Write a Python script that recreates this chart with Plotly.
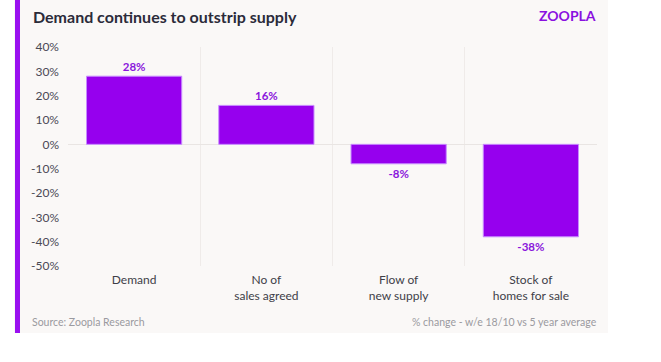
import plotly.graph_objects as go

categories = ["Demand", "No of<br>sales agreed", "Flow of<br>new supply", "Stock of<br>homes for sale"]
values = [28, 16, -8, -38]
y_tickvals = [40, 30, 20, 10, 0, -10, -20, -30, -40, -50]
y_ticktext = ["40%", "30%", "20%", "10%", "0%", "-10%", "-20%", "-30%", "-40%", "-50%"]

W, H = 661, 362
# plot area in page pixels: x 68..597, y 47..266
L, R, T = 68, W - 597, 47
B = H - 266
PW, PH = W - L - R, H - T - B

def px(x):
    return (x - L) / PW

def py(y):
    return (H - B - y) / PH

PURPLE = "#9600ee"
CARD = "#faf8f7"
FONT = "Lato"

fig = go.Figure()
fig.add_trace(go.Bar(
    x=categories, y=values,
    marker=dict(color=PURPLE, line=dict(color="#c88cff", width=1)),
    width=0.72,
    text=[f"{v}%" for v in values],
    textposition="outside",
    textfont=dict(color="#8a16dc", size=11.5, family=FONT),
    texttemplate="<b>%{text}</b>",
    cliponaxis=False,
    hoverinfo="skip",
))

fig.update_layout(
    width=W, height=H,
    margin=dict(l=L, r=R, t=T, b=B, autoexpand=False),
    paper_bgcolor="white",
    plot_bgcolor=CARD,
    showlegend=False,
    font=dict(family=FONT, color="#444444"),
    xaxis=dict(
        type="category", tickson="boundaries", showgrid=True,
        gridcolor="#efebe9", gridwidth=1, ticks="", showline=False,
        range=[-0.5, 3.5], tickfont=dict(size=12, color="#3e3e48"),
        ticklabelstandoff=5, fixedrange=True,
    ),
    yaxis=dict(
        range=[-50, 40], tickvals=y_tickvals, ticktext=y_ticktext,
        showgrid=False, zeroline=True, zerolinecolor="#e9e5e3", zerolinewidth=1,
        tickfont=dict(size=12, color="#4a4a55"), ticks="", ticklabelstandoff=8,
        fixedrange=True,
    ),
    shapes=[
        dict(type="rect", xref="paper", yref="paper", x0=px(14), x1=px(608), y0=py(333), y1=py(0),
             fillcolor=CARD, line=dict(width=0), layer="below"),
        dict(type="rect", xref="paper", yref="paper", x0=px(15), x1=px(20), y0=py(333), y1=py(0),
             fillcolor="#9a10f0", line=dict(width=0), layer="above"),
    ],
    annotations=[
        dict(text="<b>Demand continues to outstrip supply</b>", xref="paper", yref="paper",
             x=px(31), y=py(17), xanchor="left", yanchor="middle", showarrow=False,
             font=dict(size=16, color="#2b2b3a", family=FONT)),
        dict(text="<b>ZOOPLA</b>", xref="paper", yref="paper",
             x=px(598), y=py(15), xanchor="right", yanchor="middle", showarrow=False,
             font=dict(size=14, color="#8a10e0", family=FONT)),
        dict(text="Source: Zoopla Research", xref="paper", yref="paper",
             x=px(30), y=py(322), xanchor="left", yanchor="middle", showarrow=False,
             font=dict(size=10.5, color="#9a9a9f", family=FONT)),
        dict(text="% change - w/e 18/10 vs 5 year average", xref="paper", yref="paper",
             x=px(599), y=py(322), xanchor="right", yanchor="middle", showarrow=False,
             font=dict(size=10.5, color="#9a9a9f", family=FONT)),
    ],
)

fig.write_html("out.html", config={"displayModeBar": False},
               post_script="document.body.style.margin='0px';")
